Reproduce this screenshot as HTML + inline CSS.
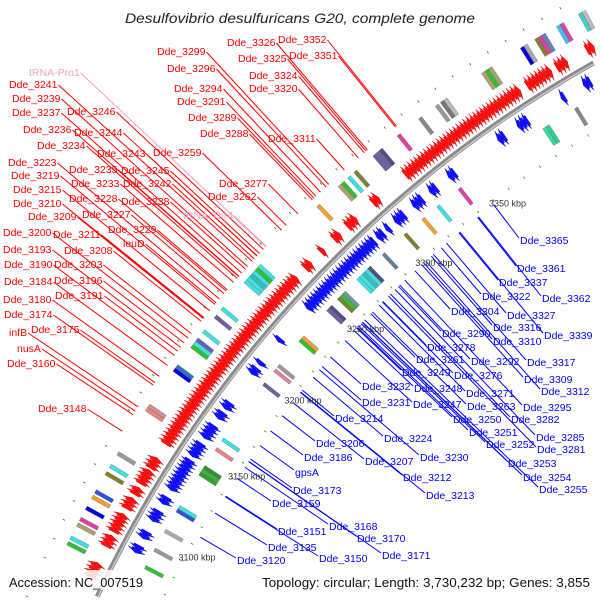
<!DOCTYPE html>
<html><head><meta charset="utf-8"><style>
html,body{margin:0;padding:0;background:#fff;width:600px;height:600px;overflow:hidden}
svg{display:block;font-family:"Liberation Sans",sans-serif;overflow:hidden}
</style></head><body>
<svg id="map" width="600" height="600" viewBox="0 0 600 600" xmlns="http://www.w3.org/2000/svg">
<defs><clipPath id="frame"><rect x="0" y="0" width="600" height="600"/></clipPath></defs>
<rect width="600" height="600" fill="#fff"/>
<g clip-path="url(#frame)">
<g id="lines"></g>
<g id="tracks"></g>
<g id="labels"></g>
</g>
<text x="300" y="23" text-anchor="middle" font-size="14" font-style="italic" fill="#222" textLength="350" lengthAdjust="spacingAndGlyphs">Desulfovibrio desulfuricans G20, complete genome</text>
<rect x="5" y="570" width="140" height="20" fill="#fff" opacity="0.85"/>
<text x="9" y="587" font-size="13" fill="#111" textLength="134" lengthAdjust="spacingAndGlyphs">Accession: NC_007519</text>
<rect x="258" y="570" width="338" height="20" fill="#fff" opacity="0.85"/>
<text x="262" y="587" font-size="13" fill="#111" textLength="328" lengthAdjust="spacingAndGlyphs">Topology: circular; Length: 3,730,232 bp; Genes: 3,855</text>
</svg>
<script>
// ---- data ----
const genomeLength = 3730.232;
const fwdStart = [3049,3051,3053,3056,3066,3068,3070,3072,3083,3085,3087,3091,3093,3095,3097,3099,3104,3106,3108,3112,3114,3118,3120,3122,3124,3127,3129,3131,3141,3143,3145,3147,3149,3151,3153,3155,3157,3159,3161,3163,3165,3167,3169,3171,3173,3175,3177,3179,3181,3183,3185,3187,3189,3191,3193,3195,3197,3199,3201,3203,3205,3207,3209,3211,3213,3215,3217,3219,3221,3223,3225,3227,3229,3231,3233,3235,3237,3239,3241,3243,3251,3253,3262,3271,3273,3280,3282,3284,3297,3299,3318,3320,3322,3324,3326,3328,3330,3332,3334,3336,3338,3340,3342,3344,3346,3348,3350,3352,3354,3356,3358,3360,3362,3364,3366,3368,3370,3372,3374,3376,3378,3380,3382,3384,3386,3392,3394,3396,3398,3400,3402,3404,3409,3411,3413,3426,3428,3430,3432,3434,3436,3440,3442,3444];
const revStart = [3087,3089,3095,3097,3105,3107,3109,3115,3117,3123,3125,3127,3129,3131,3133,3135,3137,3139,3143,3145,3147,3149,3154,3156,3158,3160,3166,3168,3172,3174,3194,3196,3200,3215,3237,3239,3241,3243,3245,3247,3249,3251,3253,3255,3257,3259,3261,3263,3265,3267,3269,3271,3273,3275,3277,3279,3281,3283,3287,3289,3293,3299,3301,3303,3311,3313,3315,3322,3324,3334,3336,3365,3367,3377,3379,3381,3403,3416,3418];
const geneLength = 2.2;
const cogOuterK = [3075,3078,3085,3088,3094,3100,3103,3113,3117,3124,3149,3151,3172,3174,3186,3188,3190,3195,3204,3209,3226,3228,3230,3232,3234,3236,3276,3290,3292,3296,3300,3312,3314,3316,3327,3340,3350,3353,3355,3377,3379,3381,3399,3401,3407,3409,3411,3419,3421,3431,3433];
const cogOuterColor = ["#30c030","#40e0e0","#b0a070","#e040a0","#0000e0","#f0a030","#3050e0","#808030","#40e0e0","#999999","#f08080","#d09090","#0000e0","#3070c0","#30c030","#40e0e0","#6060c0","#40e0e0","#7060a0","#40e0e0","#40e0e0","#40e0e0","#30c0c0","#40e0e0","#30c030","#40e0e0","#f0a030","#b0a070","#30c030","#40e0e0","#808030","#7060a0","#7060a0","#505080","#e040a0","#888888","#999999","#777777","#bbbbbb","#b0a070","#30c030","#b0a070","#0000e0","#aaaaaa","#808030","#e040a0","#6080c0","#40c0f0","#e040a0","#40d0d0","#bbbbbb"];
const cogInnerK = [3082,3092,3103,3115,3117,3137,3139,3141,3152,3158,3193,3202,3205,3222,3224,3243,3245,3251,3253,3255,3265,3267,3269,3271,3273,3283,3298,3310,3320,3334,3387,3389,3406,3417];
const cogInnerColor = ["#30c030","#999999","#aaaaaa","#3050e0","#40e0e0","#30a030","#40b040","#309030","#f08080","#40e0e0","#7060a0","#e080a0","#999999","#30c030","#f0a030","#7060a0","#505080","#808030","#30c030","#8090a0","#40e0e0","#40e0e0","#30c0c0","#40e0e0","#505080","#6080a0","#808030","#f0a030","#40e0e0","#e040a0","#30e0a0","#30d090","#888888","#30c030"];
const dotK = [3045,3055,3065,3075,3085,3095,3105,3115,3125,3135,3145,3155,3165,3175,3185,3195,3205,3215,3225,3235,3245,3255,3265,3275,3285,3295,3305,3315,3325,3335,3345,3355,3365,3375,3385,3395,3405,3415,3425,3435,3445,3455];
const tickK = [3100,3150,3200,3250,3300,3350];
const tickLabels = ["3100 kbp","3150 kbp","3200 kbp","3250 kbp","3300 kbp","3350 kbp"];
const redNames = ["Dde_3352","Dde_3326","Dde_3351","Dde_3299","Dde_3325","Dde_3296","Dde_3324","Dde_3320","Dde_3294","Dde_3291","Dde_3289","Dde_3288","Dde_3311","tRNA-Pro1","Dde_3241","Dde_3239","Dde_3237","Dde_3246","Dde_3236","Dde_3244","Dde_3234","Dde_3243","Dde_3259","Dde_3223","Dde_3235","Dde_3245","Dde_3219","Dde_3233","Dde_3242","Dde_3277","Dde_3215","Dde_3228","Dde_3238","Dde_3262","Dde_3210","Dde_3209","Dde_3227","tRNA-Thr4","Dde_3200","Dde_3211","Dde_3229","Dde_3193","Dde_3208","leuD","Dde_3190","Dde_3203","Dde_3184","Dde_3196","Dde_3180","Dde_3191","Dde_3174","infB","Dde_3175","nusA","Dde_3160","Dde_3148"];
const redPos = [[278,43],[227,46],[289,59],[157,55],[238,62],[167,72],[249,79],[249,92],[174,92],[177,105],[188,121],[200,137],[268,142],[29,76],[9,88],[12,102],[12,116],[67,115],[23,133],[74,136],[37,149],[97,157],[153,156],[8,166],[69,173],[121,174],[11,179],[71,187],[123,187],[219,187],[13,193],[69,202],[121,205],[208,200],[13,207],[28,220],[82,218],[183,219],[3,236],[53,238],[108,233],[3,253],[64,254],[123,247],[4,268],[54,268],[4,285],[54,284],[3,303],[55,299],[4,318],[9,336],[31,333],[17,352],[7,367],[38,412]];
const blueNames = ["Dde_3365","Dde_3361","Dde_3337","Dde_3362","Dde_3322","Dde_3327","Dde_3304","Dde_3316","Dde_3339","Dde_3290","Dde_3310","Dde_3278","Dde_3317","Dde_3261","Dde_3292","Dde_3276","Dde_3249","Dde_3309","Dde_3232","Dde_3248","Dde_3312","Dde_3271","Dde_3231","Dde_3247","Dde_3263","Dde_3295","Dde_3214","Dde_3250","Dde_3282","Dde_3251","Dde_3285","Dde_3224","Dde_3206","Dde_3252","Dde_3281","Dde_3186","Dde_3207","Dde_3230","Dde_3253","gpsA","Dde_3212","Dde_3254","Dde_3173","Dde_3213","Dde_3255","Dde_3159","Dde_3168","Dde_3151","Dde_3170","Dde_3135","Dde_3171","Dde_3150","Dde_3120"];
const bluePos = [[520,244],[517,272],[499,286],[542,302],[482,300],[507,319],[451,315],[493,331],[544,339],[442,337],[493,345],[427,351],[527,366],[416,363],[471,365],[454,379],[402,376],[524,383],[362,390],[414,392],[541,395],[466,397],[362,406],[413,408],[467,410],[523,411],[335,422],[453,423],[511,423],[469,436],[536,441],[384,442],[316,447],[486,448],[537,453],[304,461],[365,465],[420,461],[508,467],[295,476],[403,481],[523,481],[293,494],[426,499],[539,493],[272,507],[329,530],[278,535],[357,542],[268,551],[382,559],[319,562],[237,564]];

// ---- geometry ----
const NS = "http://www.w3.org/2000/svg";
const CX = 1181, CY = 1107;
const R_BACK = 1198, R_F1 = 1203, R_F2 = 1222, R_R1 = 1174, R_R2 = 1193;
function ang(k){ return (-90 - (genomeLength - k) * 360 / genomeLength) * Math.PI / 180; }
function pt(k, r){ const a = ang(k); return [CX + r*Math.cos(a), CY + r*Math.sin(a)]; }
function P(k, r){ const p = pt(k, r); return p[0].toFixed(2) + "," + p[1].toFixed(2); }
function inFrame(k, r){ const p = pt(k, r); return p[1] < 597 && p[1] > 0 && p[0] < 597 && p[0] > 0; }
function mk(tag, parent){ const e = document.createElementNS(NS, tag); parent.appendChild(e); return e; }
const tracks = document.getElementById("tracks");
const linesG = document.getElementById("lines");
const labelsG = document.getElementById("labels");

function arcPath(k1, k2, r){
  const a = pt(k1, r), b = pt(k2, r);
  return "M" + a[0].toFixed(2) + "," + a[1].toFixed(2) + " A" + r + "," + r + " 0 0 1 " + b[0].toFixed(2) + "," + b[1].toFixed(2);
}
const back = mk("path", tracks);
back.setAttribute("d", arcPath(3059, 3426, R_BACK));
back.setAttribute("fill", "none"); back.setAttribute("stroke", "#8a8a8a"); back.setAttribute("stroke-width", "5");


const back2 = mk("path", tracks);
back2.setAttribute("d", arcPath(3059, 3426, R_BACK - 1));
back2.setAttribute("fill", "none"); back2.setAttribute("stroke", "#c8c8c8"); back2.setAttribute("stroke-width", "1.5");



// forward genes
fwdStart.forEach(s => {
  const e = s + geneLength, m = s + geneLength * 0.35, rm = (R_F1 + R_F2) / 2;
  if (!inFrame(s, R_F2) || !inFrame(e, R_F2) || !inFrame(s, R_F1)) return;
  const g = mk("polygon", tracks);
  g.setAttribute("points", [P(s,R_F1+4),P(m,R_F1+4),P(m,R_F1),P(e,rm),P(m,R_F2),P(m,R_F2-4),P(s,R_F2-4)].join(" "));
  g.setAttribute("fill", "#ff1010"); g.setAttribute("stroke", "#c00000"); g.setAttribute("stroke-width", "0.4");
  
  
});
// reverse genes
revStart.forEach(s => {
  const e = s + geneLength, m = s + geneLength * 0.65, rm = (R_R1 + R_R2) / 2;
  if (!inFrame(s, R_R1) || !inFrame(e, R_R2)) return;
  const g = mk("polygon", tracks);
  g.setAttribute("points", [P(e,R_R1+4),P(m,R_R1+4),P(m,R_R1),P(s,rm),P(m,R_R2),P(m,R_R2-4),P(e,R_R2-4)].join(" "));
  g.setAttribute("fill", "#1010ff"); g.setAttribute("stroke", "#0000b0"); g.setAttribute("stroke-width", "0.4");
  
  
});
// COG boxes
function cog(k, col, r1, r2, name){
  if (!inFrame(k, r1) || !inFrame(k + 1.9, r2) || !inFrame(k, r2)) return;
  const g = mk("polygon", tracks);
  g.setAttribute("points", [P(k,r1),P(k+1.9,r1),P(k+1.9,r2),P(k,r2)].join(" "));
  g.setAttribute("fill", col); g.setAttribute("stroke", "#555"); g.setAttribute("stroke-width", "0.3");
  
  
}
cogOuterK.forEach((k,i) => cog(k, cogOuterColor[i], 1228, 1248, 'outer-cog-box'));
cogInnerK.forEach((k,i) => cog(k, cogInnerColor[i], 1148, 1168, 'inner-cog-box'));
// dots
dotK.forEach(k => {
  [1262, 1138].forEach(r => {
    if (!inFrame(k - 0.3, r) || !inFrame(k + 0.3, r)) return;
    const d = mk("line", tracks);
    const a = pt(k-0.2, r), b = pt(k+0.2, r);
    d.setAttribute("x1", a[0]); d.setAttribute("y1", a[1]); d.setAttribute("x2", b[0]); d.setAttribute("y2", b[1]);
    d.setAttribute("stroke", "#1a8a1a"); d.setAttribute("stroke-width", "2.5");
    
    
  });
});
// ticks
tickK.forEach((k,i) => {
  const p = pt(k, 1127);
  const t = mk("text", tracks);
  t.setAttribute("x", p[0]); t.setAttribute("y", p[1] + 3);
  t.setAttribute("text-anchor", "middle"); t.setAttribute("font-size", "9"); t.setAttribute("fill", "#333");
  t.textContent = tickLabels[i];
  
  
});
// labels
function leader(x1, y1, r, col){
  const dx = x1 - CX, dy = y1 - CY, d = Math.hypot(dx, dy);
  const x2 = CX + dx * r / d, y2 = CY + dy * r / d;
  const l = mk("line", linesG);
  l.setAttribute("x1", x1); l.setAttribute("y1", y1); l.setAttribute("x2", x2); l.setAttribute("y2", y2);
  l.setAttribute("stroke", col); l.setAttribute("stroke-width", "1");
  
  
}
redNames.forEach((n,i) => {
  const t = mk("text", labelsG);
  const pink = n.startsWith("tRNA");
  t.setAttribute("x", redPos[i][0]); t.setAttribute("y", redPos[i][1]);
  t.setAttribute("font-size", "10.5"); t.setAttribute("fill", pink ? "#f4a0c8" : "#ff0000");
  t.textContent = n;
  
  
  const w = t.getComputedTextLength();
  leader(redPos[i][0] + w + 1, redPos[i][1] - 3, 1256, pink ? "#f4a0c8" : "#ff0000");
});
blueNames.forEach((n,i) => {
  const t = mk("text", labelsG);
  t.setAttribute("x", bluePos[i][0]); t.setAttribute("y", bluePos[i][1]);
  t.setAttribute("font-size", "10.5"); t.setAttribute("fill", "#0000ff");
  t.textContent = n;
  
  
  leader(bluePos[i][0] - 1, bluePos[i][1] - 6, 1134, "#0000ff");
});
</script>
</body></html>
